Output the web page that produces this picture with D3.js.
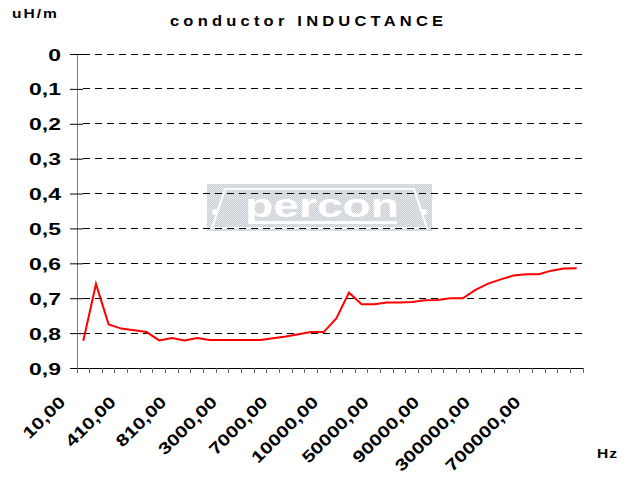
<!DOCTYPE html>
<html>
<head>
<meta charset="utf-8">
<script src="https://cdn.jsdelivr.net/npm/d3@7"></script>
<style>
  body { margin: 0; background: #fff; }
  svg { display: block; font-family: "Liberation Sans", Arial, sans-serif; font-weight: bold; }
</style>
</head>
<body>
<svg id="chart" width="631" height="481"></svg>
<script>
// frequencies (Hz), one per category
const freqs = [10, 110, 210, 310, 410, 510, 610, 710, 810, 910,
  1000, 2000, 3000, 4000, 5000, 6000, 7000, 8000, 9000, 9500,
  10000, 20000, 30000, 40000, 50000, 60000, 70000, 80000, 90000, 100000,
  200000, 250000, 300000, 400000, 500000, 600000, 700000, 800000, 900000, 1000000]

// inductance, uH/m
const inductance = [0.822, 0.659, 0.775, 0.787, 0.792, 0.797, 0.821, 0.814, 0.821, 0.814,
  0.82, 0.82, 0.82, 0.82, 0.82, 0.815, 0.81, 0.803, 0.797, 0.797,
  0.758, 0.684, 0.717, 0.717, 0.712, 0.712, 0.711, 0.706, 0.705, 0.7,
  0.7, 0.676, 0.658, 0.646, 0.635, 0.631, 0.631, 0.621, 0.615, 0.614]

const yTicks = [0, 0.1, 0.2, 0.3, 0.4, 0.5, 0.6, 0.7, 0.8, 0.9]
// excel shows every 4th category label
const labelEvery = 4

const fmtY = v => String(+v.toFixed(1)).replace(".", ",")
const fmtX = v => v.toFixed(2).replace(".", ",")

const svg = d3.select("#chart")

const x = d3.scaleBand()
  .domain(d3.range(freqs.length))
  .range([77, 583])

const y = d3.scaleLinear()
  .domain([0, 0.9])
  .range([54, 368])

// watermark logo
const defs = svg.append("defs")
const pat = defs.append("pattern")
  .attr("id", "dither")
  .attr("width", 2).attr("height", 2)
  .attr("patternUnits", "userSpaceOnUse")
pat.append("rect").attr("width", 2).attr("height", 2).attr("fill", "#e5e8eb")
pat.append("rect").attr("width", 1).attr("height", 1).attr("fill", "#c8ced4")
pat.append("rect").attr("x", 1).attr("y", 1).attr("width", 1).attr("height", 1).attr("fill", "#c8ced4")

const logo = svg.append("g").attr("transform", "translate(207,184)")
logo.append("rect").attr("width", 225).attr("height", 47).attr("fill", "url(#dither)")
logo.append("path")
  .attr("d", "M5,44 L18,5 L207,5 L220,44 Z")
  .attr("fill", "none").attr("stroke", "#fff").attr("stroke-width", 2)
logo.append("circle").attr("cx", 8).attr("cy", 28).attr("r", 3).attr("fill", "#fff")
logo.append("circle").attr("cx", 217).attr("cy", 28).attr("r", 3).attr("fill", "#fff")
logo.append("text")
  .attr("transform", "translate(115,33) scale(1.4,1)")
  .attr("text-anchor", "middle")
  .attr("font-size", 33)
  .attr("fill", "#fff")
  .text("percon")
logo.append("rect").attr("x", 45).attr("y", 37).attr("width", 145).attr("height", 3).attr("fill", "#fff")

// dashed gridlines
svg.append("g")
  .selectAll("line")
  .data(yTicks.slice(0, -1))
  .join("line")
    .attr("x1", 83).attr("x2", 583)
    .attr("y1", d => y(d)).attr("y2", d => y(d))
    .attr("stroke", "#000")
    .attr("stroke-width", 1)
    .attr("stroke-dasharray", "7,5")
    .attr("shape-rendering", "crispEdges")

// y axis
const yAxis = svg.append("g")
  .attr("transform", "translate(77,0)")
  .call(d3.axisLeft(y).tickValues(yTicks).tickSize(7).tickPadding(0).tickFormat(fmtY))
yAxis.select(".domain").attr("stroke", "#808080").attr("shape-rendering", "crispEdges")
yAxis.selectAll(".tick line").attr("x1", 6).attr("x2", -7).attr("stroke", "#000")
yAxis.selectAll(".tick text")
  .attr("x", null).attr("dy", null)
  .attr("font-size", 17)
  .attr("font-family", "Liberation Sans, Arial, sans-serif")
  .attr("font-weight", "bold")
  .attr("fill", "#000")
  .attr("text-anchor", "end")
  .attr("transform", "translate(-16,6) scale(1.35,1)")

// x axis
const xAxis = svg.append("g")
  .attr("transform", "translate(0,368)")
xAxis.append("line")
  .attr("x1", 70).attr("x2", 583)
  .attr("stroke", "#000").attr("shape-rendering", "crispEdges")
xAxis.selectAll(".xtick")
  .data(d3.range(freqs.length + 1))
  .join("line")
    .attr("class", "xtick")
    .attr("x1", i => i < freqs.length ? x(i) : x(i - 1) + x.bandwidth())
    .attr("x2", i => i < freqs.length ? x(i) : x(i - 1) + x.bandwidth())
    .attr("y1", 0).attr("y2", 5)
    .attr("stroke", "#666").attr("shape-rendering", "crispEdges")

xAxis.selectAll(".xlabel")
  .data(d3.range(0, freqs.length, labelEvery))
  .join("text")
    .attr("class", "xlabel")
    .attr("text-anchor", "end")
    .attr("font-size", 16.5)
    .attr("transform", i => `translate(${x(i) + x.bandwidth() / 2 - 17},35) rotate(-45) scale(1.26,1)`)
    .text(i => fmtX(freqs[i]))

// the line
const line = d3.line()
  .x((d, i) => x(i) + x.bandwidth() / 2)
  .y(d => y(d))

svg.append("path")
  .datum(inductance)
  .attr("fill", "none")
  .attr("stroke", "#ff0000")
  .attr("stroke-width", 2)
  .attr("d", line)

// titles
svg.append("text")
  .attr("transform", "translate(170,26) scale(1.1,1)")
  .attr("font-size", 15)
  .attr("textLength", 273 / 1.1)
  .attr("lengthAdjust", "spacing")
  .text("conductor INDUCTANCE")

svg.append("text")
  .attr("transform", "translate(12,18) scale(1.3,1)")
  .attr("font-size", 12)
  .attr("textLength", 45 / 1.3)
  .attr("lengthAdjust", "spacing")
  .text("uH/m")

svg.append("text")
  .attr("transform", "translate(597,458) scale(1.3,1)")
  .attr("font-size", 12)
  .attr("textLength", 20 / 1.3)
  .attr("lengthAdjust", "spacing")
  .text("Hz")
</script>
</body>
</html>
